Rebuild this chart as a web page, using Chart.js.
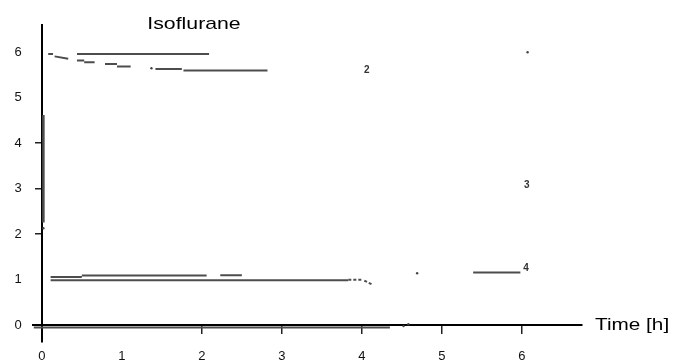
<!DOCTYPE html>
<html>
<head>
<meta charset="utf-8">
<script src="https://cdn.jsdelivr.net/npm/chart.js@4/dist/chart.umd.min.js"></script>
<style>
  html, body { margin: 0; padding: 0; background: #fff; }
  #wrap { width: 677px; height: 361px; }
</style>
</head>
<body>
<div id="wrap"><canvas id="isoChart" width="677" height="361"></canvas></div>
<script>
/*********************************************/
/*            Isoflurane traces              */
/*********************************************/

// tick values on both axes
const xTicks = [0, 1, 2, 3, 4, 5, 6];
const yTicks = [0, 1, 2, 3, 4, 5, 6];
// ticks that still show a tick mark in the scan
const xTickMarks = [2, 3, 4, 5, 6];
const yTickMarks = [2, 3, 4];

// traces as [time, value] pairs, null breaks a line
const topDash = [[0.08, 5.96], [0.14, 5.96], null, [0.16, 5.91], [0.33, 5.86]];
const topLong = [[0.44, 5.96], [2.09, 5.96]];
const topSteps = [
  [0.44, 5.82], [0.53, 5.82], null,
  [0.53, 5.78], [0.66, 5.78], null,
  [0.79, 5.74], [0.94, 5.74], null,
  [0.94, 5.69], [1.11, 5.69], null,
  [1.42, 5.63], [1.75, 5.63], null,
  [1.77, 5.60], [2.82, 5.60]
];
const leftBar = [[0.02, 4.62], [0.02, 2.26]];
const lowUpper = [
  [0.11, 1.06], [0.50, 1.06], null,
  [0.50, 1.09], [2.06, 1.09], null,
  [2.23, 1.10], [2.50, 1.10]
];
const lowLower = [[0.11, 0.99], [3.83, 0.99]];
const lowLowerDash = [[3.83, 1.0], [4.0, 1.0], null, [4.03, 0.98], [4.12, 0.90]];
const lowRight = [[5.39, 1.16], [5.98, 1.16]];
const baseTrace = [[-0.10, -0.05], [4.35, -0.05]];
const dots = [[1.37, 5.65], [0.02, 2.13], [4.69, 1.14], [6.07, 6.0], [4.52, -0.02], [4.58, 0.02]];

// curve numbers
const curveLabels = ["2", "3", "4"];
const curveLabelPos = [[4.06, 5.6], [6.06, 3.08], [6.05, 1.25]];

const toPoints = (arr) => arr.map((p) => (p ? { x: p[0], y: p[1] } : { x: null, y: null }));

const lineColor = "#4d4d4d";
const tickFontCss = "13px 'Liberation Sans', Arial, sans-serif";

function lineSet(arr, extra) {
  return Object.assign({
    data: toPoints(arr),
    showLine: true,
    borderColor: lineColor,
    backgroundColor: lineColor,
    borderWidth: 2,
    pointRadius: 0,
    spanGaps: false
  }, extra || {});
}

// text that is not part of the scales
const textMarks = {
  id: "textMarks",
  afterDraw(chart) {
    const { ctx, chartArea, scales } = chart;
    const x0 = scales.x.getPixelForValue(0);
    ctx.save();
    ctx.fillStyle = "#000";
    ctx.font = "17px 'Liberation Sans', Arial, sans-serif";
    ctx.textBaseline = "alphabetic";

    // title
    ctx.save();
    ctx.translate(chartArea.left + 161, 29);
    ctx.scale(1.25, 1);
    ctx.textAlign = "center";
    ctx.fillText("Isoflurane", 0, 0);
    ctx.restore();

    // axis name at the end of the x axis
    ctx.save();
    ctx.translate(chartArea.right + 13, scales.y.getPixelForValue(0) + 5);
    ctx.scale(1.22, 1);
    ctx.textAlign = "left";
    ctx.fillText("Time [h]", 0, 0);
    ctx.restore();

    // y tick labels, left of the axis line
    ctx.font = tickFontCss;
    ctx.fillStyle = "#111";
    ctx.textAlign = "right";
    ctx.textBaseline = "middle";
    yTicks.forEach((v) => {
      ctx.fillText(String(v), x0 - 20, scales.y.getPixelForValue(v));
    });

    // curve numbers
    ctx.font = "bold 10px 'Liberation Sans', Arial, sans-serif";
    ctx.fillStyle = "#333";
    ctx.textAlign = "center";
    curveLabels.forEach((t, i) => {
      const px = scales.x.getPixelForValue(curveLabelPos[i][0]);
      const py = scales.y.getPixelForValue(curveLabelPos[i][1]);
      ctx.fillText(t, px, py);
    });
    ctx.restore();
  }
};

const tickFont = { family: "'Liberation Sans', Arial, sans-serif", size: 13 };

const config = {
  type: "scatter",
  data: {
    datasets: [
      lineSet(topDash),
      lineSet(topLong),
      lineSet(topSteps),
      lineSet(leftBar, { borderWidth: 2.5 }),
      lineSet(lowUpper),
      lineSet(lowLower),
      lineSet(lowLowerDash, { borderDash: [3, 2] }),
      lineSet(lowRight),
      lineSet(baseTrace),
      {
        data: toPoints(dots),
        showLine: false,
        pointRadius: 1.2,
        pointBorderWidth: 0,
        backgroundColor: "#444"
      }
    ]
  },
  plugins: [textMarks],
  options: {
    responsive: false,
    animation: false,
    events: [],
    layout: { padding: { left: 33, right: 95, top: 25, bottom: 19 } },
    plugins: {
      legend: { display: false },
      title: { display: false },
      tooltip: { enabled: false }
    },
    scales: {
      x: {
        type: "linear",
        min: -0.11,
        max: 6.75,
        position: { y: 0 },
        afterBuildTicks: (scale) => {
          scale.ticks = xTicks.map((v) => ({ value: v }));
        },
        border: { display: true, color: "#000", width: 2 },
        grid: {
          drawOnChartArea: false,
          drawTicks: true,
          tickLength: 8,
          lineWidth: 1.5,
          color: (c) => (c.tick && xTickMarks.includes(c.tick.value) ? "#222" : "rgba(0,0,0,0)")
        },
        ticks: { padding: 15, color: "#111", font: tickFont, maxRotation: 0 }
      },
      y: {
        type: "linear",
        min: -0.37,
        max: 6.6,
        position: { x: 0 },
        afterBuildTicks: (scale) => {
          scale.ticks = yTicks.map((v) => ({ value: v }));
        },
        border: { display: true, color: "#000", width: 2 },
        grid: {
          drawOnChartArea: false,
          drawTicks: true,
          tickLength: 6,
          lineWidth: 1.5,
          color: (c) => (c.tick && yTickMarks.includes(c.tick.value) ? "#222" : "rgba(0,0,0,0)")
        },
        ticks: { display: false }
      }
    }
  }
};

const isoChart = new Chart(document.getElementById("isoChart"), config);
</script>
</body>
</html>
